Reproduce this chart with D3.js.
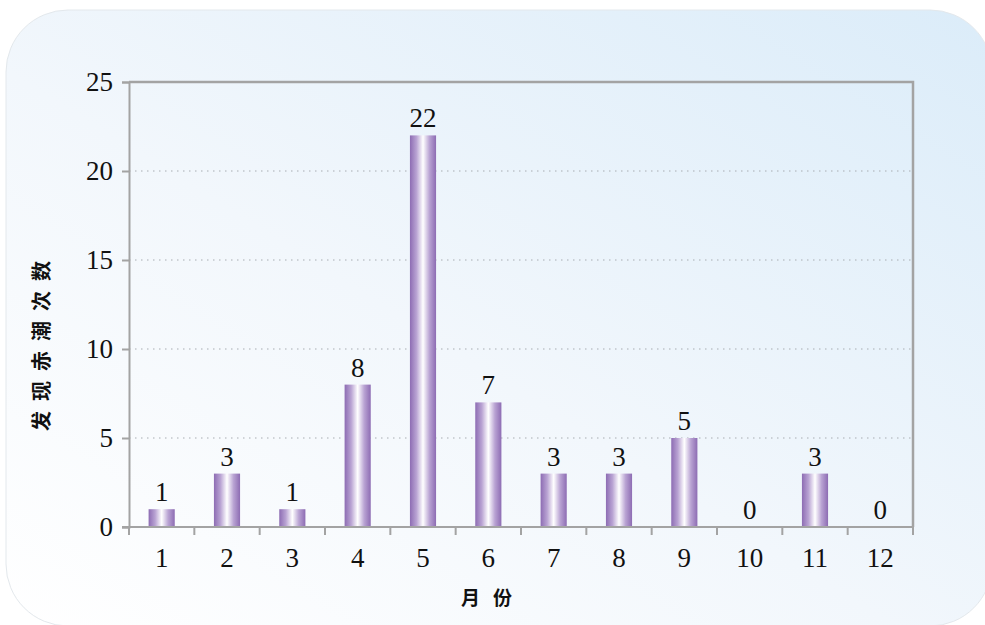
<!DOCTYPE html>
<html>
<head>
<meta charset="utf-8">
<script src="https://cdn.jsdelivr.net/npm/d3@7"></script>
<style>
  html, body { margin: 0; padding: 0; background: #ffffff; }
  svg { display: block; }
</style>
</head>
<body>
<svg id="chart" width="985" height="625"></svg>
<script>
// Monthly counts of red-tide discoveries
const months = ["1", "2", "3", "4", "5", "6", "7", "8", "9", "10", "11", "12"];
const counts = [1, 3, 1, 8, 22, 7, 3, 3, 5, 0, 3, 0];
const yTicks = [0, 5, 10, 15, 20, 25];
const yTitle = "发现赤潮次数";
const xTitle = "月份";

const svg = d3.select("#chart");
const W = 985, H = 625;
const margin = { left: 129, right: 72, top: 82, bottom: 98 };
const plotW = W - margin.left - margin.right;
const plotH = H - margin.top - margin.bottom;
const serif = "'Liberation Serif', 'DejaVu Serif', serif";
const numSize = 27;

const defs = svg.append("defs");

// Panel background gradient: white at bottom-left to pale blue at top-right
const bg = defs.append("linearGradient").attr("id", "bgGrad")
  .attr("x1", "0%").attr("y1", "100%").attr("x2", "100%").attr("y2", "0%");
bg.append("stop").attr("offset", "0%").attr("stop-color", "#ffffff");
bg.append("stop").attr("offset", "45%").attr("stop-color", "#f2f7fc");
bg.append("stop").attr("offset", "100%").attr("stop-color", "#dbecf9");

// Bar shading: purple edges, white centre
const bar = defs.append("linearGradient").attr("id", "barGrad")
  .attr("x1", "0%").attr("y1", "0%").attr("x2", "100%").attr("y2", "0%");
bar.append("stop").attr("offset", "0%").attr("stop-color", "#8d6cb3");
bar.append("stop").attr("offset", "25%").attr("stop-color", "#b9a3d3");
bar.append("stop").attr("offset", "50%").attr("stop-color", "#ffffff");
bar.append("stop").attr("offset", "75%").attr("stop-color", "#b9a3d3");
bar.append("stop").attr("offset", "100%").attr("stop-color", "#8d6cb3");

svg.append("rect")
  .attr("x", 6).attr("y", 10).attr("width", 986).attr("height", 616)
  .attr("rx", 62).attr("ry", 62)
  .attr("fill", "url(#bgGrad)")
  .attr("stroke", "#e3e8ec").attr("stroke-width", 1);

const g = svg.append("g").attr("transform", `translate(${margin.left},${margin.top})`);

const x = d3.scaleBand().domain(months).range([0, plotW]).paddingInner(0.6).paddingOuter(0.3);
const y = d3.scaleLinear().domain([0, 25]).range([plotH, 0]);

// Dotted grid lines
g.append("g").selectAll("line")
  .data(yTicks.filter(t => t > 0 && t < 25))
  .join("line")
  .attr("x1", 0).attr("x2", plotW)
  .attr("y1", d => y(d)).attr("y2", d => y(d))
  .attr("stroke", "#a8adb2").attr("stroke-width", 1)
  .attr("stroke-dasharray", "1.5,4.5");

// Frame: top and right
g.append("path")
  .attr("d", `M0,0H${plotW}V${plotH}`)
  .attr("fill", "none").attr("stroke", "#a3a3a3").attr("stroke-width", 2.5);

// Bars
g.append("g").selectAll("rect")
  .data(counts.map((v, i) => ({ m: months[i], v })))
  .join("rect")
  .attr("x", d => x(d.m))
  .attr("y", d => y(d.v))
  .attr("width", x.bandwidth())
  .attr("height", d => plotH - y(d.v))
  .attr("fill", "url(#barGrad)");

// Value labels
g.append("g").selectAll("text")
  .data(counts.map((v, i) => ({ m: months[i], v })))
  .join("text")
  .attr("x", d => x(d.m) + x.bandwidth() / 2)
  .attr("y", d => y(d.v) - 8)
  .attr("text-anchor", "middle")
  .attr("font-family", serif)
  .attr("font-size", numSize)
  .attr("fill", "#111")
  .text(d => d.v);

// Y axis
const yAxis = g.append("g")
  .call(d3.axisLeft(y).tickValues(yTicks).tickSize(7).tickPadding(9));
yAxis.select(".domain").attr("stroke", "#a3a3a3").attr("stroke-width", 2);
yAxis.selectAll(".tick line").attr("stroke", "#a3a3a3").attr("stroke-width", 2);
yAxis.selectAll(".tick text")
  .attr("font-family", serif)
  .attr("font-size", numSize).attr("fill", "#111");

// X axis with ticks at category boundaries
const xAxisG = g.append("g").attr("transform", `translate(0,${plotH})`);
xAxisG.append("line")
  .attr("x1", -7).attr("x2", plotW)
  .attr("stroke", "#a3a3a3").attr("stroke-width", 2);
const step = x.step();
const bounds = d3.range(months.length + 1).map(i => i * step);
xAxisG.selectAll("line.tk").data(bounds).join("line").attr("class", "tk")
  .attr("x1", d => d).attr("x2", d => d).attr("y1", 0).attr("y2", 8)
  .attr("stroke", "#a3a3a3").attr("stroke-width", 2);
xAxisG.selectAll("text").data(months).join("text")
  .attr("x", d => x(d) + x.bandwidth() / 2)
  .attr("y", 40)
  .attr("text-anchor", "middle")
  .attr("font-family", serif)
  .attr("font-size", numSize).attr("fill", "#111")
  .text(d => d);

// Axis titles
svg.append("text")
  .attr("transform", "translate(49,341) rotate(-90)")
  .attr("text-anchor", "middle")
  .attr("font-family", "'Noto Sans CJK SC', sans-serif")
  .attr("font-weight", "bold")
  .attr("font-size", 20)
  .attr("letter-spacing", 10)
  .attr("fill", "#111")
  .text(yTitle);

svg.append("text")
  .attr("x", 493)
  .attr("y", 605)
  .attr("text-anchor", "middle")
  .attr("font-family", "'Noto Sans CJK SC', sans-serif")
  .attr("font-weight", "bold")
  .attr("font-size", 19)
  .attr("letter-spacing", 13)
  .attr("fill", "#111")
  .text(xTitle);
</script>
</body>
</html>
